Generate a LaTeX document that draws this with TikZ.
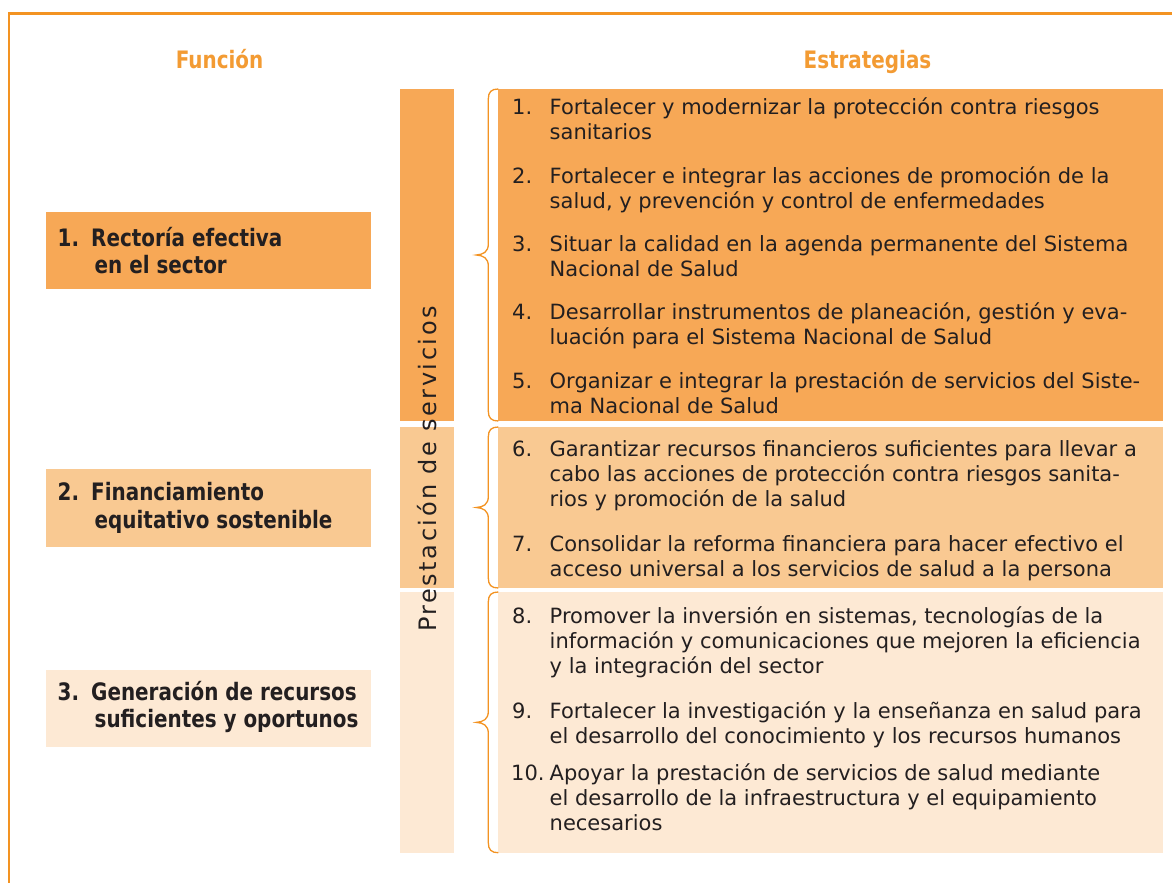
\documentclass[tikz,border=0pt]{standalone}
\usepackage{fontspec}
\setmainfont{DejaVu Sans}[BoldFeatures={FakeStretch=0.83}]
\definecolor{frameC}{HTML}{F39322}
\definecolor{titleC}{HTML}{F39B33}
\definecolor{darkC}{HTML}{F7A856}
\definecolor{midC}{HTML}{F9C992}
\definecolor{lightC}{HTML}{FDE9D4}
\definecolor{txtC}{HTML}{231F20}
\newcommand\textlines[2]{\vtop{\baselineskip=#1\relax\lineskiplimit=-1000pt\relax\lineskip=0pt\relax\halign{##\hfil\cr#2\crcr}}}
\newcommand\orangebrace[1]{%
\draw[bracec] (#1.north west)
 .. controls ([xshift=-7pt]#1.north west) and ([xshift=-10pt,yshift=-3pt]#1.north west) .. ([xshift=-10pt,yshift=-10pt]#1.north west)
 -- ([xshift=-10pt,yshift=11pt]#1.west)
 .. controls ([xshift=-10pt,yshift=3pt]#1.west) and ([xshift=-15pt,yshift=0.5pt]#1.west) .. ([xshift=-22pt]#1.west)
 .. controls ([xshift=-15pt,yshift=-0.5pt]#1.west) and ([xshift=-10pt,yshift=-3pt]#1.west) .. ([xshift=-10pt,yshift=-11pt]#1.west)
 -- ([xshift=-10pt,yshift=10pt]#1.south west)
 .. controls ([xshift=-10pt,yshift=3pt]#1.south west) and ([xshift=-7pt]#1.south west) .. (#1.south west);}
\begin{document}
\begin{tikzpicture}[x=1pt,y=-1pt,
  box/.style={draw=none, inner sep=0pt, outer sep=0pt, anchor=north west},
  ltxt/.style={anchor=base west, inner sep=0pt, text=txtC, font=\fontsize{24}{28}\selectfont\bfseries},
  stxt/.style={anchor=base west, inner sep=0pt, text=txtC, font=\fontsize{21}{25}\selectfont},
  title/.style={anchor=base, inner sep=0pt, text=titleC, font=\fontsize{24}{28}\selectfont\bfseries},
  vtxt/.style={anchor=base, inner sep=0pt, text=txtC, rotate=90, font=\fontsize{24}{28}\selectfont\addfontfeature{LetterSpace=10.6}},
  bracec/.style={draw=frameC, line width=1.3pt}]
\useasboundingbox (0,0) rectangle (1172,883);
\clip (0,0) rectangle (1172,883);
\fill[white] (0,0) rectangle (1172,883);
\draw[frameC, line width=2.3pt] (9.2,13.5) rectangle (1200,910);

% titles
\node[title] (fun) at (219.5,68.3) {Función};
\node[title] (est) at (867.5,68.3) {Estrategias};

% left function boxes
\node[box, fill=darkC, minimum width=325pt, minimum height=77.3pt] (f1) at (46,212) {};
\node[box, fill=midC, minimum width=325pt, minimum height=77.7pt] (f2) at (46,469) {};
\node[box, fill=lightC, minimum width=325pt, minimum height=77.3pt] (f3) at (46,670) {};
\node[ltxt] (f1n) at (57.5,246) {1.};
\node[ltxt] (f1t) at (91,246) {\textlines{27.5pt}{Rectoría efectiva\cr\hspace{3.5pt}en el sector}};
\node[ltxt] (f2n) at (57.5,500.5) {2.};
\node[ltxt] (f2t) at (91,500.5) {\textlines{27.5pt}{Financiamiento\cr\hspace{3.5pt}equitativo sostenible}};
\node[ltxt] (f3n) at (57.5,700) {3.};
\node[ltxt] (f3t) at (91,700) {\textlines{27.5pt}{Generación de recursos\cr\hspace{3.5pt}suficientes y oportunos}};

% vertical bar
\node[box, fill=darkC, minimum width=54pt, minimum height=332pt] (v1) at (400,89) {};
\node[box, fill=midC, minimum width=54pt, minimum height=161pt] (v2) at (400,427) {};
\node[box, fill=lightC, minimum width=54pt, minimum height=260.7pt] (v3) at (400,592) {};
\node[vtxt] (vt) at (436.5,469) {Prestación de servicios};

% strategy boxes
\node[box, fill=darkC, minimum width=664.7pt, minimum height=332pt] (s1) at (498.3,89) {};
\node[box, fill=midC, minimum width=664.7pt, minimum height=161pt] (s2) at (498.3,427) {};
\node[box, fill=lightC, minimum width=664.7pt, minimum height=260.7pt] (s3) at (498.3,592) {};

\orangebrace{s1}
\orangebrace{s2}
\orangebrace{s3}

% items
\node[stxt] (n1) at (512,114.7) {1.};
\node[stxt] (t1) at (549.5,114.7) {\textlines{25pt}{Fortalecer y modernizar la protección contra riesgos\cr sanitarios}};
\node[stxt] (n2) at (512,183) {2.};
\node[stxt] (t2) at (549.5,183) {\textlines{25pt}{Fortalecer e integrar las acciones de promoción de la\cr salud, y prevención y control de enfermedades}};
\node[stxt] (n3) at (512,251.3) {3.};
\node[stxt] (t3) at (549.5,251.3) {\textlines{25pt}{Situar la calidad en la agenda permanente del Sistema\cr Nacional de Salud}};
\node[stxt] (n4) at (512,319.7) {4.};
\node[stxt] (t4) at (549.5,319.7) {\textlines{25pt}{Desarrollar instrumentos de planeación, gestión y eva-\cr luación para el Sistema Nacional de Salud}};
\node[stxt] (n5) at (512,388) {5.};
\node[stxt] (t5) at (549.5,388) {\textlines{25pt}{Organizar e integrar la prestación de servicios del Siste-\cr ma Nacional de Salud}};
\node[stxt] (n6) at (512,456.7) {6.};
\node[stxt] (t6) at (549.5,456.7) {\textlines{25pt}{Garantizar recursos financieros suficientes para llevar a\cr cabo las acciones de protección contra riesgos sanita-\cr rios y promoción de la salud}};
\node[stxt] (n7) at (512,551.7) {7.};
\node[stxt] (t7) at (549.5,551.7) {\textlines{25pt}{Consolidar la reforma financiera para hacer efectivo el\cr acceso universal a los servicios de salud a la persona}};
\node[stxt] (n8) at (512,623.3) {8.};
\node[stxt] (t8) at (549.5,623.3) {\textlines{25pt}{Promover la inversión en sistemas, tecnologías de la\cr información y comunicaciones que mejoren la eficiencia\cr y la integración del sector}};
\node[stxt] (n9) at (512,718.3) {9.};
\node[stxt] (t9) at (549.5,718.3) {\textlines{25pt}{Fortalecer la investigación y la enseñanza en salud para\cr el desarrollo del conocimiento y los recursos humanos}};
\node[stxt] (n10) at (511,780) {10.};
\node[stxt] (t10) at (549.5,780) {\textlines{25pt}{Apoyar la prestación de servicios de salud mediante\cr el desarrollo de la infraestructura y el equipamiento\cr necesarios}};
\end{tikzpicture}
\end{document}
